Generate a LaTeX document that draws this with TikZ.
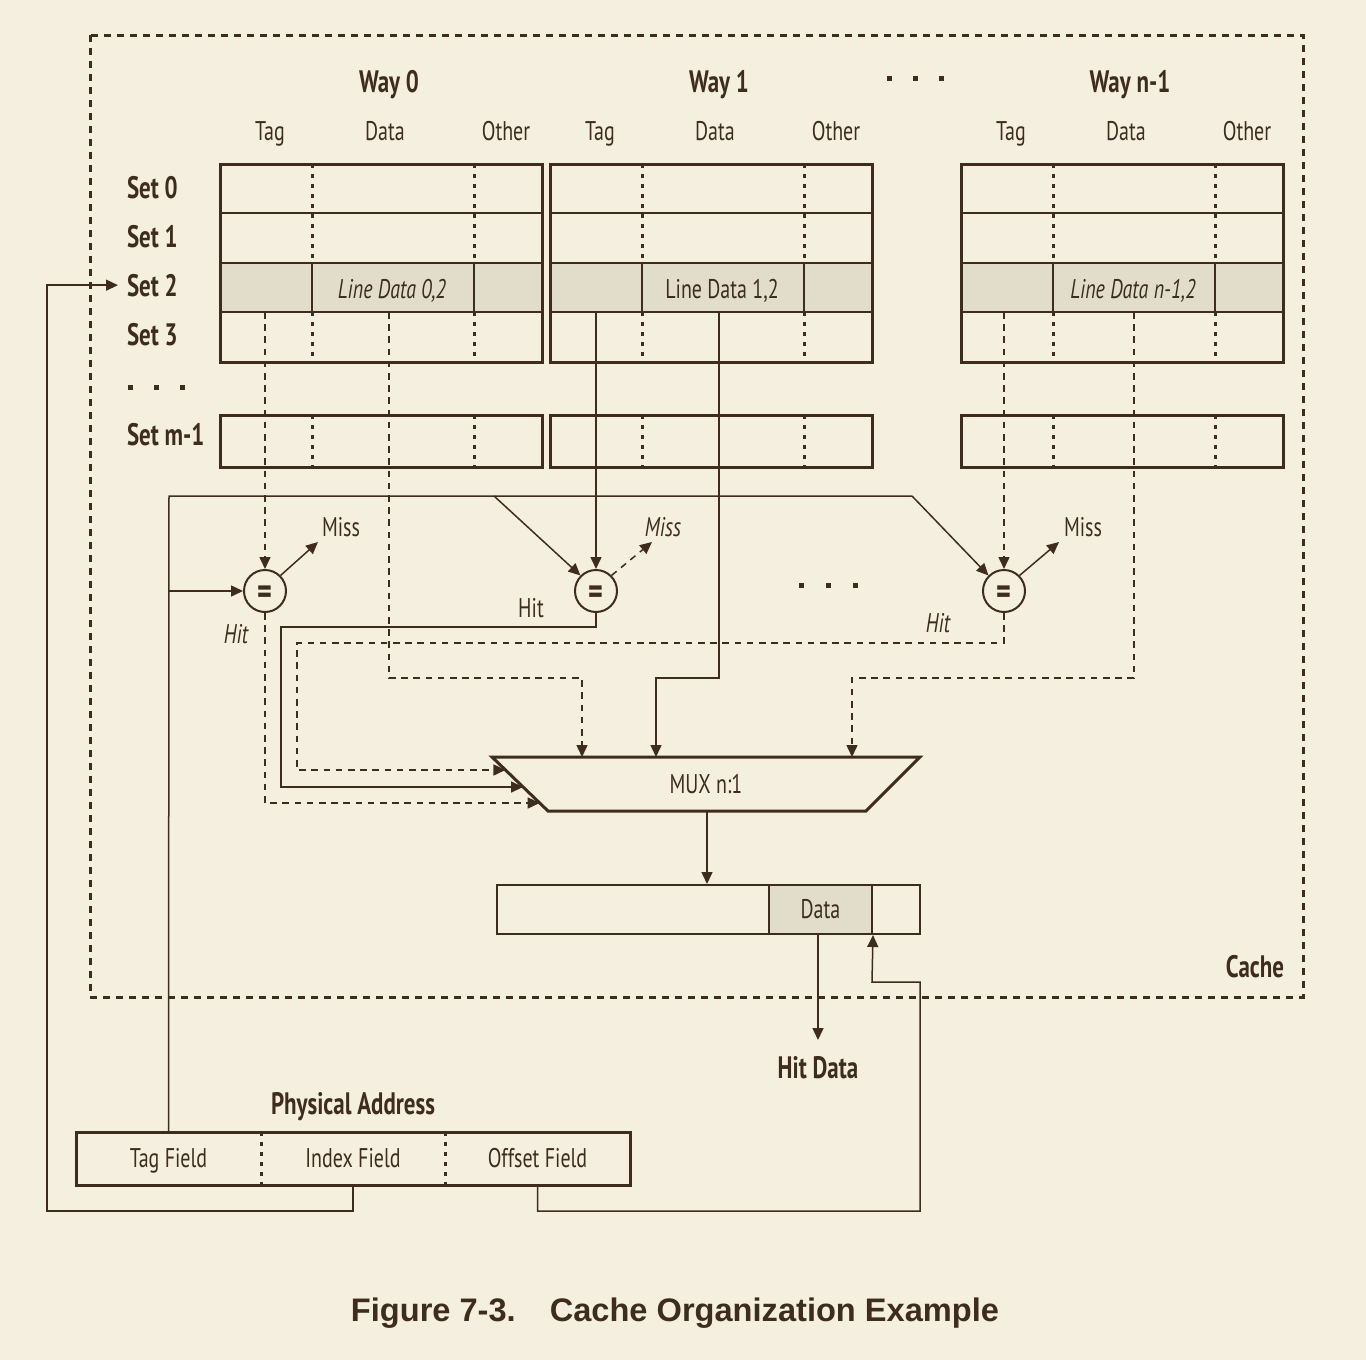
\documentclass[tikz,border=0pt]{standalone}
\usepackage{fontspec}
\setmainfont{PT Sans}[FakeStretch=0.74]
\newfontfamily\figfont{Liberation Sans}
\usetikzlibrary{arrows.meta,calc}

\begin{document}
\begin{tikzpicture}[x=0.5pt,y=-0.5pt,
  wire/.style={draw=drawColor,line width=0.75pt},
  dwire/.style={wire,dash pattern=on 3.3pt off 2.8pt},
  tip/.style={-{Triangle[length=6pt,width=5.5pt]}},
  cellbox/.style={draw=drawColor,line width=1.5pt},
  rowline/.style={draw=drawColor,line width=1.25pt},
  coldiv/.style={draw=drawColor,line width=1.5pt,dash pattern=on 2pt off 3pt},
  lbl/.style={text=drawColor,inner sep=0pt,outer sep=0pt,anchor=base,font=\fontsize{13.5}{15}\selectfont},
  hdr/.style={lbl,font=\fontsize{15.5}{17}\selectfont\bfseries},
  field/.style={text=drawColor,inner sep=0pt,outer sep=0pt,minimum height=26.5pt,text height=10pt,text depth=1.5pt,font=\fontsize{13.5}{15}\selectfont},
  eqnode/.style={circle,draw=drawColor,line width=1pt,minimum size=21pt,inner sep=0pt,text=drawColor,font=\fontsize{19}{19}\selectfont\bfseries}]
\definecolor{bgColor}{RGB}{245,239,224}
\definecolor{drawColor}{RGB}{62,45,30}
\definecolor{shadeColor}{RGB}{226,221,203}

\path[use as bounding box,fill=bgColor] (0,0) rectangle (1366,1360);

% cache outline
\path[draw=drawColor,line width=1.5pt,dash pattern=on 3.5pt off 3pt] (90,35) rectangle (1303,997);
\node[hdr,anchor=base east] (cache) at (1284,977) {Cache};

% the ways
\foreach \x/\k/\w/\ld in {220/0/{Way 0}/{\itshape Line Data 0,2},550/1/{Way 1}/{\upshape Line Data 1,2},961/n/{Way n-1}/{\itshape Line Data n-1,2}}{
  \path[fill=shadeColor] (\x,263) rectangle (\x+322,312);
  \path[coldiv] (\x+92,164) -- (\x+92,263) (\x+92,312) -- (\x+92,362)
    (\x+254,164) -- (\x+254,263) (\x+254,312) -- (\x+254,362);
  \path[rowline] (\x+92,263) -- (\x+92,312) (\x+254,263) -- (\x+254,312);
  \path[rowline] (\x,213) -- (\x+322,213) (\x,263) -- (\x+322,263) (\x,312) -- (\x+322,312);
  \path[cellbox] (\x,164) rectangle (\x+322,362);
  \path[cellbox] (\x,415) rectangle (\x+322,467);
  \path[coldiv] (\x+92,415) -- (\x+92,467) (\x+254,415) -- (\x+254,467);
  \node[hdr] (way\k) at (\x+169,92) {\w};
  \node[lbl] (tag\k) at (\x+50,140) {Tag};
  \node[lbl] (data\k) at (\x+165,140) {Data};
  \node[lbl] (other\k) at (\x+286,140) {Other};
  \node[lbl] (ld\k) at (\x+172,298) {\ld};
}
\foreach \x in {889,915,941}
  \path[fill=drawColor] (\x-2.5,75.5) rectangle (\x+2.5,80.5);

% set labels
\foreach \s/\y in {0/198,1/247,2/296,3/345,m-1/445}
  \node[hdr,anchor=base west] (set\s) at (127,\y) {Set \s};
\foreach \x in {130,156,182}
  \path[fill=drawColor] (\x-2.5,384.5) rectangle (\x+2.5,389.5);

% comparators
\node[eqnode] (eq0) at (265,591) {\raisebox{-1.9pt}[\height][0pt]{=}};
\node[eqnode] (eq1) at (596,591) {\raisebox{-1.9pt}[\height][0pt]{=}};
\node[eqnode] (eqn) at (1004,591) {\raisebox{-1.9pt}[\height][0pt]{=}};
\foreach \x in {801,828,855}
  \path[fill=drawColor] (\x-2.5,582.5) rectangle (\x+2.5,587.5);

\coordinate (t0) at (265,312);
\coordinate (d0) at (389,312);
\coordinate (t1) at (596,312);
\coordinate (d1) at (719,312);
\coordinate (tn) at (1004,312);
\coordinate (dn) at (1134,312);

\draw[dwire,tip] (t0) -- (eq0.north);
\draw[wire,tip] (t1) -- (eq1.north);
\draw[dwire,tip] (tn) -- (eqn.north);

% miss outputs
\coordinate (miss0) at (318,542);
\coordinate (miss1) at (652,542);
\coordinate (missn) at (1059,542);
\draw[wire,tip] (eq0.north east) -- (miss0);
\draw[dwire,tip] (eq1.north east) -- (miss1);
\draw[wire,tip] (eqn.north east) -- (missn);
\node[lbl] (misslbl0) at (341,536) {Miss};
\node[lbl] (misslbl1) at (663,536) {\itshape Miss};
\node[lbl] (misslbln) at (1083,536) {Miss};
\node[lbl] (hitlbl0) at (236,643) {\itshape Hit};
\node[lbl] (hitlbl1) at (531,617) {Hit};
\node[lbl] (hitlbln) at (938,632) {\itshape Hit};

% multiplexer
\coordinate (mtl) at (492,757);
\coordinate (mtr) at (920,757);
\coordinate (mbr) at (866,811);
\coordinate (mbl) at (548,811);
\path[draw=drawColor,line width=1.5pt] (mtl) -- (mtr) -- (mbr) -- (mbl) -- cycle;
\node[lbl] (mux) at (706,793) {MUX n:1};

% hit paths
\coordinate (h1) at (281,627);
\coordinate (hn) at (297,643);
\draw[dwire,tip] (eq0.south) |- ($(mtl)!46/54!(mbl)$);
\draw[wire,tip] (eq1.south) |- (h1) |- ($(mtl)!30/54!(mbl)$);
\draw[dwire,tip] (eqn.south) |- (hn) |- ($(mtl)!13/54!(mbl)$);

% data paths
\coordinate (k0) at (582,678);
\coordinate (k1) at (656,678);
\coordinate (kn) at (852,678);
\draw[dwire,tip] (d0) |- (k0) -- (k0 |- mtl);
\draw[wire,tip] (d1) |- (k1) -- (k1 |- mtl);
\draw[dwire,tip] (dn) |- (kn) -- (kn |- mtl);

% output register
\node[draw=drawColor,line width=1pt,minimum width=211.5pt,minimum height=24.5pt,inner sep=0pt] (reg) at (708.5,909.5) {};
\node[draw=drawColor,line width=1pt,fill=shadeColor,minimum width=51.5pt,minimum height=24.5pt,inner sep=0pt,text=drawColor,font=\fontsize{13.5}{15}\selectfont] (regdat) at (820.5,909.5) {Data};
\coordinate (mo) at (707,811);
\draw[wire,tip] (mo) -- (mo |- reg.north);
\coordinate (hdin) at (818,1040);
\draw[wire,tip] (regdat.south -| hdin) -- (hdin);
\node[hdr] (hitdata) at (818,1078) {Hit Data};

% physical address
\node[hdr] (paddr) at (353,1114) {Physical Address};
\node[field,minimum width=92.5pt] (tagf) at (168.5,1158.5) {Tag Field};
\node[field,minimum width=92pt] (idxf) at (353,1158.5) {Index Field};
\node[field,minimum width=92.5pt] (offf) at (537.5,1158.5) {Offset Field};
\path[cellbox] (tagf.north west) rectangle (offf.south east);
\path[coldiv] (tagf.north east) -- (tagf.south east) (idxf.north east) -- (idxf.south east);

% address connections
\coordinate (busl) at (169,496);
\coordinate (busm) at (494,496);
\coordinate (busr) at (912,496);
\coordinate (busin) at (169,591);
\draw[wire] (tagf.north) -- (busl) -- (busr);
\draw[wire,tip] (busm) -- (eq1.north west);
\draw[wire,tip] (busr) -- (eqn.north west);
\draw[wire,tip] (busin) -- (eq0.west);

\coordinate (i1) at (47,1211);
\draw[wire,tip] (idxf.south) |- (i1) |- ([xshift=-4.5pt]set2.west);

\coordinate (o1) at (920,1211);
\coordinate (o2) at (872,982);
\draw[wire,tip] (offf.south) |- (o1) |- (o2) -- (regdat.south east);

% caption
\node[text=drawColor,anchor=base,inner sep=0pt,font=\figfont\fontsize{16.3}{18}\selectfont\bfseries] (caption) at (675,1321) {Figure 7-3.\hspace{17pt}Cache Organization Example};
\end{tikzpicture}
\end{document}
